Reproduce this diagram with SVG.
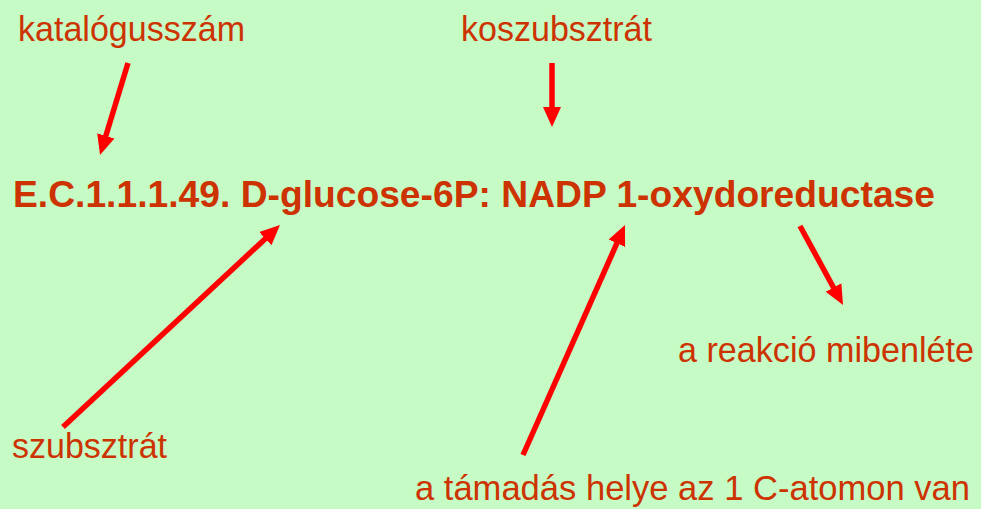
<svg xmlns="http://www.w3.org/2000/svg" width="981" height="509" viewBox="0 0 981 509">
<defs>
<style>
.lbl{font-family:"Liberation Sans",Arial,sans-serif;font-size:35px;fill:#CC3300;}
.ttl{font-family:"Liberation Sans",Arial,sans-serif;font-size:37px;font-weight:bold;fill:#CC3300;}
.arr{stroke:#FF0000;stroke-width:5.5;fill:none;marker-end:url(#ah);}
</style>
<marker id="ah" markerUnits="userSpaceOnUse" markerWidth="20" markerHeight="18" viewBox="0 0 20 18" refX="8" refY="9" orient="auto">
<path d="M0,0 L20,9 L0,18 z" fill="#FF0000"/>
</marker>
</defs>
<rect width="981" height="509" fill="#C6FBC6"/>
<g id="title"><text class="ttl" x="13" y="207" textLength="922" lengthAdjust="spacingAndGlyphs">E.C.1.1.1.49. D-glucose-6P: NADP 1-oxydoreductase</text></g>
<g id="katalogusszam"><text class="lbl" x="18" y="41" textLength="227" lengthAdjust="spacingAndGlyphs">katalógusszám</text></g>
<g id="koszubsztrat"><text class="lbl" x="461" y="41" textLength="191" lengthAdjust="spacingAndGlyphs">koszubsztrát</text></g>
<g id="szubsztrat"><text class="lbl" x="12" y="458" textLength="155" lengthAdjust="spacingAndGlyphs">szubsztrát</text></g>
<g id="reakcio"><text class="lbl" x="678" y="362" textLength="296" lengthAdjust="spacingAndGlyphs">a reakció mibenléte</text></g>
<g id="tamadas"><text class="lbl" x="415" y="500" textLength="555" lengthAdjust="spacingAndGlyphs">a támadás helye az 1 C-atomon van</text></g>
<g id="connectors">
<line class="arr" x1="128" y1="63" x2="103.5" y2="143.5"/>
<line class="arr" x1="552" y1="63" x2="552" y2="115"/>
<line class="arr" x1="63" y1="427" x2="271.2" y2="233.2"/>
<line class="arr" x1="523" y1="455" x2="620.1" y2="236"/>
<line class="arr" x1="800" y1="226" x2="837.3" y2="294.5"/>
</g>
</svg>
